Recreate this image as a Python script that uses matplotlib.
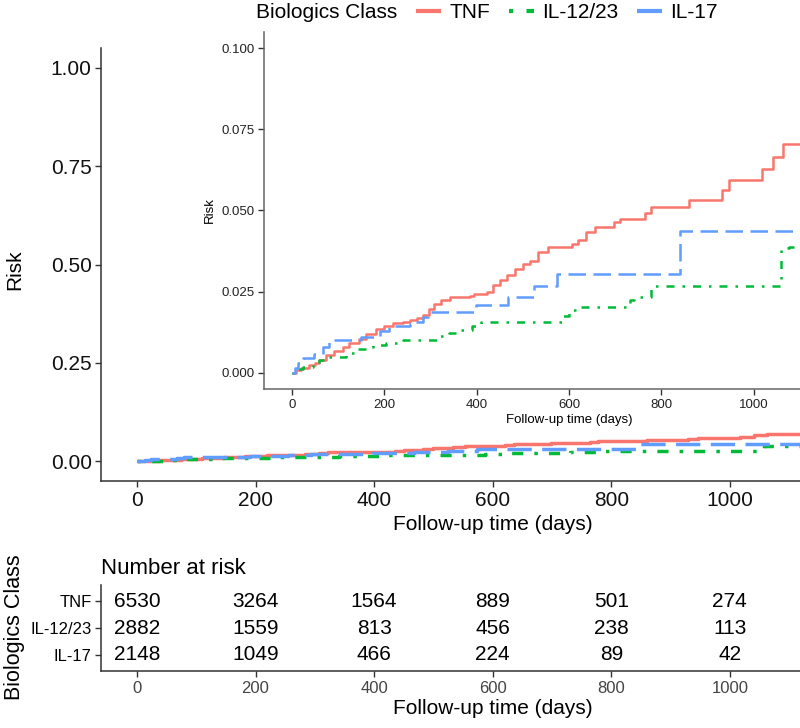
import matplotlib
matplotlib.use('Agg')
import matplotlib.pyplot as plt
from matplotlib import font_manager
from matplotlib.lines import Line2D

names = {f.name for f in font_manager.fontManager.ttflist}
FONT = 'Liberation Sans' if 'Liberation Sans' in names else 'DejaVu Sans'
plt.rcParams['font.family'] = [FONT, 'DejaVu Sans']

# ---------------- data ----------------
groups = ['TNF', 'IL-12/23', 'IL-17']
colors = ['#F8766D', '#00BA38', '#619CFF']

tnf_t = [0, 10, 20, 38, 50, 60, 74, 91, 110, 125, 146, 160, 182, 200, 219, 240, 255, 270, 284, 298,
         307, 322, 343, 386, 395, 422, 436, 450, 465, 483, 500, 516, 533, 554, 607, 620, 636, 657,
         698, 711, 764, 777, 860, 930, 946, 1017, 1041, 1062, 1200]
tnf_r = [0, .001, .0016, .0024, .003, .004, .0054, .0068, .008, .0092, .0105, .0118, .0134, .0145,
         .0152, .0157, .0162, .0168, .0177, .0195, .0213, .0225, .0234, .0236, .0242, .0249, .027,
         .0285, .030, .032, .0336, .0345, .0372, .0388, .0397, .041, .0435, .0448, .0465, .0475,
         .0493, .0511, .0532, .0562, .0593, .0629, .0665, .0705, .0705]

il1223_t = [0, 12, 25, 45, 60, 75, 118, 140, 160, 175, 204, 240, 320, 340, 358, 390, 410, 587, 599,
            616, 731, 740, 777, 1058, 1075, 1200]
il1223_r = [0, .0013, .0018, .003, .004, .005, .006, .0072, .0078, .0085, .0093, .0102, .0113, .0123,
            .0133, .0145, .0156, .0174, .0194, .0202, .0225, .0235, .0266, .0383, .0389, .0389]

il17_t = [0, 8, 13, 24, 48, 67, 80, 149, 190, 211, 255, 265, 284, 294, 398, 467, 525, 574, 841, 1200]
il17_r = [0, .0015, .003, .0047, .0058, .008, .010, .011, .0128, .0143, .015, .0157, .0172, .0188,
          .021, .0235, .0266, .0304, .0437, .0437]

risk_times = [0, 200, 400, 600, 800, 1000]
tnf_risk = [6530, 3264, 1564, 889, 501, 274]
il1223_risk = [2882, 1559, 813, 456, 238, 113]
il17_risk = [2148, 1049, 466, 224, 89, 42]

x_ticks = [0, 200, 400, 600, 800, 1000]

series_t = [tnf_t, il1223_t, il17_t]
series_r = [tnf_r, il1223_r, il17_r]
series_n = [tnf_risk, il1223_risk, il17_risk]
dashes = [None, (1, 3.2, 3.2, 3.2), (7, 3)]

# ---------------- layout ----------------
W, H = 800, 728
fig = plt.figure(figsize=(W / 100, H / 100), dpi=100)


def rect(l, t, r, b):
    return [l / W, 1 - b / H, (r - l) / W, (b - t) / H]


XL = (-60, 1260)
axis_col = '#333333'


def style(ax, ticksize, tickcol):
    for s in ['top', 'right']:
        ax.spines[s].set_visible(False)
    for s in ['left', 'bottom']:
        ax.spines[s].set_color(axis_col)
        ax.spines[s].set_linewidth(1.1)
    ax.tick_params(length=4, width=1, color=axis_col, labelsize=ticksize, labelcolor=tickcol, pad=3)


def draw_lines(a, lw):
    for t, r, c, d in zip(series_t, series_r, colors, dashes):
        ln, = a.step(t, r, where='post', color=c, lw=lw, solid_capstyle='butt')
        if d:
            ln.set_dashes(d)
            ln.set_dash_capstyle('butt')


# main axes
ax = fig.add_axes(rect(101.4, 48, 884, 481))
draw_lines(ax, 2.5)
ax.set_xlim(*XL)
ax.set_ylim(-0.05, 1.05)
ax.set_xticks(x_ticks)
ax.set_yticks([0, 0.25, 0.5, 0.75, 1.0])
ax.set_yticklabels(['0.00', '0.25', '0.50', '0.75', '1.00'])
style(ax, 15, '#111111')
ax.set_xlabel('Follow-up time (days)', fontsize=15, labelpad=4)
fig.text(15 / W, 1 - 270 / H, 'Risk', rotation=90, fontsize=15, va='center', ha='center')

# inset axes
ia = fig.add_axes(rect(264, 32, 874, 389))
ia.set_facecolor('white')
draw_lines(ia, 1.8)
ia.set_xlim(*XL)
ia.set_ylim(-0.005, 0.105)
ia.set_xticks(x_ticks)
ia.set_yticks([0, 0.025, 0.05, 0.075, 0.1])
ia.set_yticklabels(['0.000', '0.025', '0.050', '0.075', '0.100'])
style(ia, 9.5, '#222222')
ia.spines['left'].set_color('#666666')
ia.spines['bottom'].set_color('#666666')
ia.set_xlabel('Follow-up time (days)', fontsize=9.5, labelpad=2)
ia.set_ylabel('Risk', fontsize=9.5, labelpad=4)

# risk table
ta = fig.add_axes(rect(101.4, 585, 884, 671))
ta.set_xlim(*XL)
ta.set_ylim(0.4, 3.6)
ypos = [3, 2, 1]
for n, y in zip(series_n, ypos):
    for x, v in zip(risk_times, n):
        ta.text(x, y, str(v), ha='center', va='center', fontsize=15, color='black')
ta.set_yticks(ypos)
ta.set_yticklabels(groups)
ta.set_xticks(x_ticks)
style(ta, 12, '#444444')
ta.tick_params(axis='y', labelsize=12, labelcolor='black')
ta.set_xlabel('Follow-up time (days)', fontsize=15, labelpad=2)
ta.text(0, 1.07, 'Number at risk', transform=ta.transAxes, fontsize=16, ha='left', va='bottom')
fig.text(15 / W, 1 - 627 / H, 'Biologics Class', rotation=90, fontsize=15.5, va='center', ha='center')

# legend
fig.text(256 / W, 1 - 13 / H, 'Biologics Class', fontsize=15, va='center', ha='left')
handles = []
for c, d in zip(colors, dashes):
    h = Line2D([0], [0], color=c, lw=3, solid_capstyle='butt')
    if d:
        h.set_dashes(d)
        h.set_dash_capstyle('butt')
    handles.append(h)
fig.legend(handles, groups, loc='center left', bbox_to_anchor=(416 / W, 1 - 13 / H), ncol=3,
           frameon=False, fontsize=15, handlelength=1.2, handletextpad=0.4, columnspacing=0.9,
           borderpad=0, borderaxespad=0)

fig.savefig('out.png', dpi=100)
